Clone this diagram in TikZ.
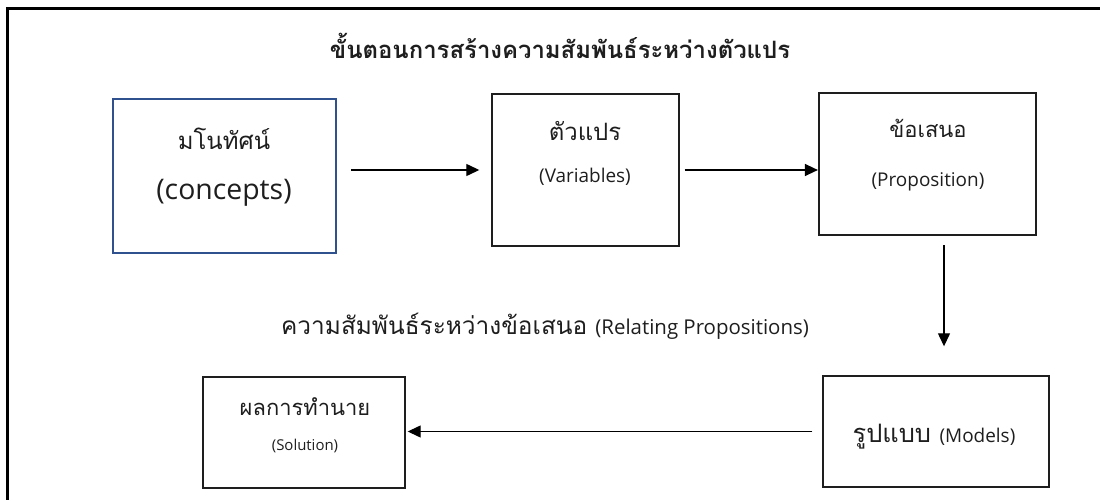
\documentclass[tikz,border=0pt]{standalone}
\usepackage{fontspec}
\setmainfont{Open Sans}
\newfontfamily\thai[Script=Thai]{Loma}
\usetikzlibrary{arrows.meta}
\definecolor{conceptblue}{HTML}{2F528F}
\definecolor{ink}{HTML}{1E1E1E}
\tikzset{
  box/.style={draw=ink, line width=1.4bp, minimum width=#1, inner sep=0pt},
  arr/.style={draw=black, line width=1.3bp, -{Triangle[length=13bp,width=12bp]}},
  txt/.style={text=ink, inner sep=0pt},
}
\begin{document}
\begin{tikzpicture}[x=1bp,y=-1bp]
\useasboundingbox (0,0) rectangle (1100,500);
% outer frame
\draw[line width=3bp, black] (7,500) -- (7,9) -- (1100,9);
% title
\node[txt] (title) at (560,46) {\thai\bfseries\fontsize{24}{28}\selectfont ขั้นตอนการสร้างความสัมพันธ์ระหว่างตัวแปร};
% boxes
\node[box=223bp, minimum height=154bp, draw=conceptblue, line width=2.2bp] (concepts) at (224.5,176) {};
\node[box=187bp, minimum height=152bp] (variables) at (585.5,170) {};
\node[box=217bp, minimum height=142bp, line width=2.2bp] (prop) at (927.5,164) {};
\node[box=202bp, minimum height=111bp] (solution) at (304,432.5) {};
\node[box=226bp, minimum height=111bp] (models) at (936,431.5) {};
% texts
\node[txt] (t1a) at (224,139) {\thai\fontsize{24}{28}\selectfont มโนทัศน์};
\node[txt] (t1b) at (224,193) {\fontsize{28.5}{33}\selectfont (concepts)};
\node[txt] (t2a) at (585,131) {\thai\fontsize{24}{28}\selectfont ตัวแปร};
\node[txt] (t2b) at (585,177) {\fontsize{19}{23}\selectfont (Variables)};
\node[txt] (t3a) at (928,128) {\thai\fontsize{22}{26}\selectfont ข้อเสนอ};
\node[txt] (t3b) at (928,182) {\fontsize{19}{23}\selectfont (Proposition)};
\node[txt] (t4a) at (305,407) {\thai\fontsize{22}{26}\selectfont ผลการทำนาย};
\node[txt] (t4b) at (305,446) {\fontsize{15}{18}\selectfont (Solution)};
\node[txt] (t5) at (934,437) {\thai\fontsize{25.5}{30}\selectfont รูปแบบ \rmfamily\fontsize{19}{23}\selectfont(Models)};
\node[txt] (rel) at (545,326) {\thai\fontsize{24.5}{29}\selectfont ความสัมพันธ์ระหว่างข้อเสนอ \rmfamily\fontsize{20.5}{24}\selectfont(Relating Propositions)};
% connectors
\draw[arr, shorten <=14bp, shorten >=12bp] (concepts.east |- variables.west) -- (variables.west);
\draw[arr, shorten <=5bp] (variables.east) -- (variables.east -| prop.west);
\draw[arr, shorten <=9bp, shorten >=29bp] ([xshift=16.5bp]prop.south) -- ([xshift=16.5bp]prop.south |- models.north);
\draw[arr, shorten <=10bp, shorten >=2bp] (models.west) -- (models.west -| solution.east);
\end{tikzpicture}
\end{document}
